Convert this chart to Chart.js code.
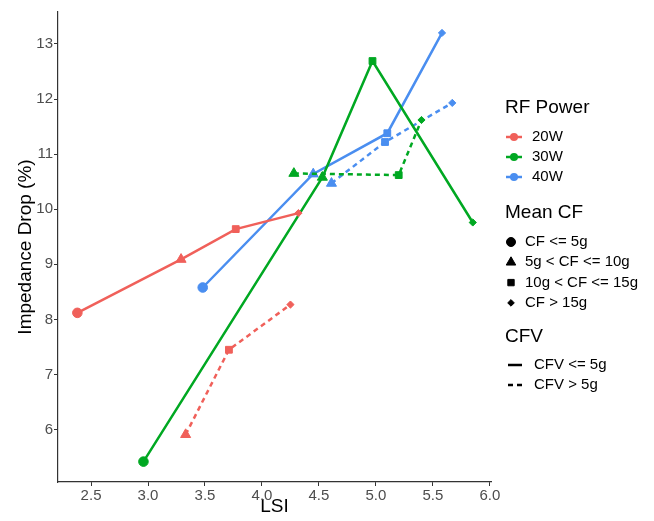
<!DOCTYPE html>
<html>
<head>
<meta charset="utf-8">
<script src="https://cdn.jsdelivr.net/npm/chart.js@4/dist/chart.umd.min.js"></script>
<style>
  html, body { margin: 0; padding: 0; background: #fff; }
</style>
</head>
<body>
<canvas id="chart" width="654" height="521"></canvas>
<script>
// ============================
// DATA
// ============================

const xTicks = [2.5, 3.0, 3.5, 4.0, 4.5, 5.0, 5.5, 6.0];
const yTicks = [6, 7, 8, 9, 10, 11, 12, 13];

const powerLevels = ["20W", "30W", "40W"];
const cfClasses = ["CF <= 5g", "5g < CF <= 10g", "10g < CF <= 15g", "CF > 15g"];
const cfvClasses = ["CFV <= 5g", "CFV > 5g"];

// 20W
const lsi20Low = [2.38, 3.29, 3.77, 4.32];
const drop20Low = [8.12, 9.09, 9.64, 9.93];
const cf20Low = [0, 1, 2, 3];

const lsi20High = [3.33, 3.71, 4.25];
const drop20High = [5.91, 7.45, 8.27];
const cf20High = [1, 2, 3];

// 30W
const lsi30Low = [2.96, 4.53, 4.97, 5.85];
const drop30Low = [5.42, 10.58, 12.69, 9.76];
const cf30Low = [0, 1, 2, 3];

const lsi30High = [4.28, 5.20, 5.40];
const drop30High = [10.65, 10.62, 11.62];
const cf30High = [1, 2, 3];

// 40W
const lsi40Low = [3.48, 4.45, 5.10, 5.58];
const drop40Low = [8.58, 10.64, 11.38, 13.20];
const cf40Low = [0, 1, 2, 3];

const lsi40High = [4.61, 5.08, 5.67];
const drop40High = [10.47, 11.22, 11.93];
const cf40High = [1, 2, 3];

// ============================
// STYLE
// ============================

const FONT = "'Liberation Sans', Arial, sans-serif";
const COLORS = ["#F0605A", "#00A822", "#4A8EF0"];
const SHAPES = ["circle", "triangle", "rect", "rectRot"];
const SHAPE_RADIUS = { circle: 4.8, triangle: 5.8, rect: 4.8, rectRot: 3.6 };
const DASH = [5, 4];

const series = [
  { power: 0, cfv: 0, x: lsi20Low, y: drop20Low, cf: cf20Low },
  { power: 0, cfv: 1, x: lsi20High, y: drop20High, cf: cf20High },
  { power: 1, cfv: 0, x: lsi30Low, y: drop30Low, cf: cf30Low },
  { power: 1, cfv: 1, x: lsi30High, y: drop30High, cf: cf30High },
  { power: 2, cfv: 0, x: lsi40Low, y: drop40Low, cf: cf40Low },
  { power: 2, cfv: 1, x: lsi40High, y: drop40High, cf: cf40High }
];

const datasets = series.map(s => {
  const color = COLORS[s.power];
  const styles = s.cf.map(c => SHAPES[c]);
  return {
    label: `${powerLevels[s.power]} ${cfvClasses[s.cfv]}`,
    data: s.x.map((x, i) => ({ x, y: s.y[i] })),
    borderColor: color,
    backgroundColor: color,
    borderWidth: 2.5,
    borderDash: s.cfv === 1 ? DASH : [],
    pointStyle: styles,
    pointRadius: styles.map(st => SHAPE_RADIUS[st]),
    pointBackgroundColor: color,
    pointBorderColor: color,
    pointBorderWidth: 1,
    showLine: true,
    tension: 0
  };
});

// ============================
// LEGEND PLUGIN
// ============================

const groupLegendPlugin = {
  id: "groupLegendPlugin",
  afterDraw(chart) {
    const ctx = chart.ctx;
    const titleX = 505;
    const symX = 514;
    const textX = 532;

    ctx.save();
    ctx.textBaseline = "middle";
    ctx.textAlign = "left";

    function title(text, y) {
      ctx.font = `19px ${FONT}`;
      ctx.fillStyle = "#000";
      ctx.fillText(text, titleX, y);
    }
    function label(text, y, x) {
      ctx.font = `15px ${FONT}`;
      ctx.fillStyle = "#000";
      ctx.fillText(text, x, y);
    }

    // RF Power
    title("RF Power", 108);
    powerLevels.forEach((p, i) => {
      const y = 137 + i * 20;
      ctx.strokeStyle = COLORS[i];
      ctx.lineWidth = 2.5;
      ctx.setLineDash([]);
      ctx.beginPath();
      ctx.moveTo(symX - 8, y);
      ctx.lineTo(symX + 8, y);
      ctx.stroke();
      ctx.fillStyle = COLORS[i];
      ctx.beginPath();
      ctx.arc(symX, y, 4, 0, Math.PI * 2);
      ctx.fill();
      label(p, y, textX);
    });

    // Mean CF
    title("Mean CF", 213);
    cfClasses.forEach((c, i) => {
      const y = 242 + i * 20.3;
      const st = SHAPES[i];
      ctx.fillStyle = "#000";
      ctx.strokeStyle = "#000";
      ctx.lineWidth = 1;
      Chart.helpers.drawPoint(ctx, { pointStyle: st, radius: SHAPE_RADIUS[st] - 0.3, borderWidth: 1 }, 511, y);
      label(c, y, 525);
    });

    // CFV
    title("CFV", 337);
    cfvClasses.forEach((c, i) => {
      const y = 365 + i * 20;
      ctx.strokeStyle = "#000";
      ctx.lineWidth = 2.5;
      ctx.setLineDash(i === 1 ? DASH : []);
      ctx.beginPath();
      ctx.moveTo(508, y);
      ctx.lineTo(522, y);
      ctx.stroke();
      ctx.setLineDash([]);
      label(c, y, 534);
    });

    ctx.restore();
  }
};

// ============================
// CHART
// ============================

const axisColor = "#333333";
const tickColor = "#4D4D4D";

new Chart(document.getElementById("chart"), {
  type: "scatter",
  data: { datasets },
  options: {
    responsive: false,
    devicePixelRatio: 1,
    animation: false,
    layout: { padding: { left: 0, top: 12, right: 163, bottom: 0 } },
    plugins: {
      legend: { display: false },
      tooltip: { enabled: false }
    },
    scales: {
      x: {
        type: "linear",
        min: 2.21,
        max: 6.01,
        afterBuildTicks: axis => { axis.ticks = xTicks.map(v => ({ value: v })); },
        afterFit: axis => { axis.height = 39; },
        border: { display: true, color: axisColor, width: 1.2 },
        grid: { drawOnChartArea: false, drawTicks: true, tickLength: 4, color: axisColor },
        ticks: {
          color: tickColor,
          font: { family: FONT, size: 15 },
          padding: 1,
          maxRotation: 0,
          callback: v => Number(v).toFixed(1)
        },
        title: {
          display: true,
          text: "LSI",
          color: "#000",
          font: { family: FONT, size: 19 },
          padding: { top: 0, bottom: 3 }
        }
      },
      y: {
        type: "linear",
        min: 5.05,
        max: 13.58,
        afterBuildTicks: axis => { axis.ticks = yTicks.map(v => ({ value: v })); },
        afterFit: axis => { axis.width = 58; },
        border: { display: true, color: axisColor, width: 1.2 },
        grid: { drawOnChartArea: false, drawTicks: true, tickLength: 4, color: axisColor },
        ticks: {
          color: tickColor,
          font: { family: FONT, size: 15 },
          padding: 1,
          callback: v => String(v)
        },
        title: {
          display: true,
          text: "Impedance Drop (%)",
          color: "#000",
          font: { family: FONT, size: 19 },
          padding: { top: 14, bottom: 0 }
        }
      }
    }
  },
  plugins: [groupLegendPlugin]
});
</script>
</body>
</html>
